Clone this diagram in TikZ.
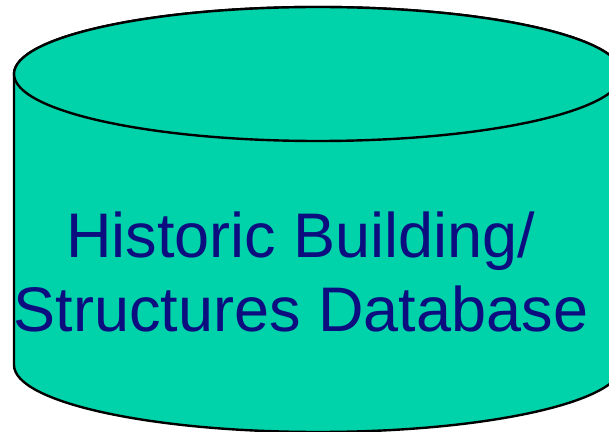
\documentclass[tikz,border=0pt]{standalone}
\usepackage{fontspec}
\setmainfont{Liberation Sans}
\definecolor{dbfill}{RGB}{0,211,170}
\definecolor{dbtext}{RGB}{12,14,128}
\begin{document}
\begin{tikzpicture}[x=1pt, y=1pt,
        dbside/.style={fill=dbfill, draw=black, line width=2.4pt},
        dblabel/.style={align=center, inner sep=0pt, text=dbtext,
            font=\fontsize{63}{74}\selectfont}]
            \useasboundingbox (0,0) rectangle (609,431);
            \clip (0,0) rectangle (609,431);
            \coordinate (topleft) at (14,357);
            \coordinate (botleft) at (14,66);
            \coordinate (topc) at (318,357);
            \draw [dbside] (topleft) -- (botleft)
                arc [start angle=180, end angle=360, x radius=304, y radius=67]
                -- ++(0,291)
                arc [start angle=0, end angle=180, x radius=304, y radius=67]
                -- cycle;
            \draw [dbside] (topc) ellipse [x radius=304, y radius=67];
            \node (db) at (301,100) [dblabel, anchor=base] {Historic Building/\\Structures Database};
        \end{tikzpicture}
\end{document}
